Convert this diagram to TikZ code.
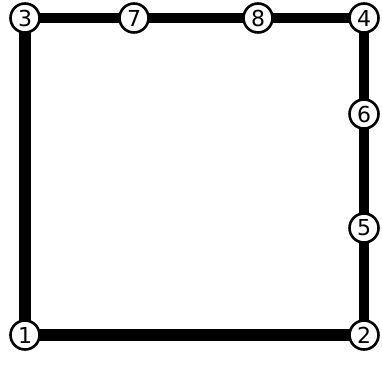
\documentclass[tikz,border=0pt]{standalone}
\usepackage{fontspec}
\setmainfont{DejaVu Sans}
\usetikzlibrary{backgrounds}
\begin{document}
\begin{tikzpicture}[x=1pt,y=-1pt,
  vtx/.style={circle,draw=black,fill=white,line width=2.6pt,minimum size=29pt,inner sep=0pt,font=\fontsize{22}{22}\selectfont},
  edge/.style={line width=10pt,black}]
\useasboundingbox (0,0) rectangle (382,365);
\node[vtx] (n3) at (25,18) {3};
\node[vtx] (n7) at (134,18) {7};
\node[vtx] (n8) at (258,18) {8};
\node[vtx] (n4) at (364,18) {4};
\node[vtx] (n6) at (364,114) {6};
\node[vtx] (n5) at (364,228) {5};
\node[vtx] (n1) at (25,335) {1};
\node[vtx] (n2) at (364,335) {2};
\begin{pgfonlayer}{background}
\draw[edge] (n3.center) -- (n7.center);
\draw[edge] (n7.center) -- (n8.center);
\draw[edge] (n8.center) -- (n4.center);
\draw[edge] (n4.center) -- (n6.center);
\draw[edge] (n6.center) -- (n5.center);
\draw[edge] (n5.center) -- (n2.center);
\draw[edge,line width=12pt] (n2.center) -- (n1.center);
\draw[edge,line width=12pt] (n1.center) -- (n3.center);
\end{pgfonlayer}
\end{tikzpicture}
\end{document}
